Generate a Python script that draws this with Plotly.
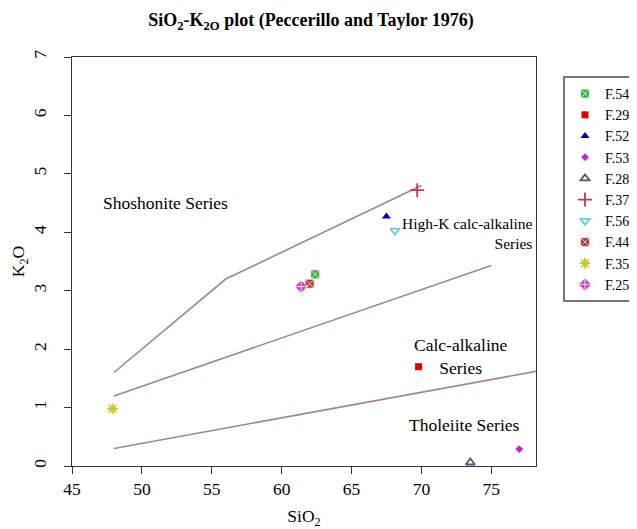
import plotly.graph_objects as go

# Sample data
names = ["F.54", "F.29", "F.52", "F.53", "F.28", "F.37", "F.56", "F.44", "F.35", "F.25"]
sio2 = [62.4, 69.8, 67.5, 77.0, 73.5, 69.7, 68.1, 62.0, 47.9, 61.4]
k2o = [3.28, 1.70, 4.27, 0.29, 0.06, 4.72, 4.03, 3.12, 0.98, 3.07]
colors = ["#3DB04A", "#E00000", "#0000A8", "#CC22CC", "#555577",
          "#B04050", "#66CCCC", "#C03838", "#C8C830", "#CC44CC"]
symbols = ["square-x", "square", "triangle-up", "diamond", "triangle-up-open",
           "cross-thin-open", "triangle-down-open", "square-x", "asterisk-open", "diamond-cross"]
sizes = [9, 7, 8, 6, 8, 10, 8, 9, 9, 10]

# Boundary lines (Peccerillo and Taylor 1976)
shosh_x = [48, 56, 70]
shosh_y = [1.6, 3.2, 4.8]
highk_x = [48, 75]
highk_y = [1.2, 3.43]
calc_x = [48, 78.2]
calc_y = [0.3, 1.62]

x_ticks = [45, 50, 55, 60, 65, 70, 75]
y_ticks = [0, 1, 2, 3, 4, 5, 6, 7]

line_color = "#A08592"
fig = go.Figure()
for bx, by in [(shosh_x, shosh_y), (highk_x, highk_y), (calc_x, calc_y)]:
    fig.add_trace(go.Scatter(x=bx, y=by, mode="lines", showlegend=False,
                             line=dict(color=line_color, width=1.6), hoverinfo="skip"))

for i, n in enumerate(names):
    sym = symbols[i]
    if sym in ("square-x", "diamond-cross"):
        mk = dict(symbol=sym, color=colors[i], size=sizes[i],
                  line=dict(color="rgba(255,255,255,0.75)", width=1))
    elif sym.endswith("-open"):
        mk = dict(symbol=sym, color=colors[i], size=sizes[i],
                  line=dict(color=colors[i], width=1.8))
    else:
        mk = dict(symbol=sym, color=colors[i], size=sizes[i], line=dict(width=0))
    fig.add_trace(go.Scatter(x=[sio2[i]], y=[k2o[i]], mode="markers", name=n, marker=mk))

font_fam = "Liberation Serif, Times New Roman, serif"
ann_font = dict(family=font_fam, size=17.5, color="black")
annotations = [
    dict(x=51.7, y=4.5, text="Shoshonite Series", showarrow=False, font=ann_font,
         xanchor="center", yanchor="middle"),
    dict(x=78.1, y=3.98, text="High-K calc-alkaline<br>Series", showarrow=False,
         font=dict(family=font_fam, size=15.5, color="black"), align="right",
         xanchor="right", yanchor="middle"),
    dict(x=72.8, y=1.88, text="Calc-alkaline<br>Series", showarrow=False, font=ann_font,
         align="center", xanchor="center", yanchor="middle"),
    dict(x=73.1, y=0.7, text="Tholeiite Series", showarrow=False, font=ann_font,
         xanchor="center", yanchor="middle"),
]

axis_common = dict(showline=True, linecolor="#333333", linewidth=1.3, mirror=True,
                   ticks="outside", ticklen=7, tickcolor="#333333", tickwidth=1.2,
                   showgrid=False, zeroline=False,
                   tickfont=dict(family=font_fam, size=17.5, color="black"))

# page is offset by 8px body margin; figure coords = page coords - 8
W, H = 629, 521
L, T, B = 64, 49, 63
plot_w = 464

fig.update_layout(
    width=W, height=H,
    paper_bgcolor="white", plot_bgcolor="white",
    margin=dict(l=L, r=0, t=T, b=B, autoexpand=False),
    title=dict(text="<b>SiO<sub>2</sub>-K<sub>2O</sub> plot (Peccerillo and Taylor 1976)</b>",
               x=(303 - L) / (W - L), xanchor="center", xref="paper",
               y=1 - 12 / H, yanchor="middle",
               font=dict(family=font_fam, size=18, color="black")),
    xaxis=dict(range=[45, 78.2], tickvals=x_ticks, domain=[0, plot_w / (W - L)],
               title=dict(text="SiO<sub>2</sub>", font=dict(family=font_fam, size=17.5, color="black"),
                          standoff=14),
               **axis_common),
    yaxis=dict(range=[0, 7], tickvals=y_ticks, tickangle=-90, ticklabelstandoff=11,
               title=dict(text="K<sub>2</sub>O", font=dict(family=font_fam, size=17.5, color="black"),
                          standoff=1),
               **axis_common),
    legend=dict(x=1.0, y=0.9535, xanchor="right", yanchor="top",
                bordercolor="#777777", borderwidth=2, bgcolor="white",
                font=dict(family=font_fam, size=14, color="black"),
                itemwidth=30, tracegroupgap=0),
    annotations=annotations,
)

fig.write_html("out.html")
